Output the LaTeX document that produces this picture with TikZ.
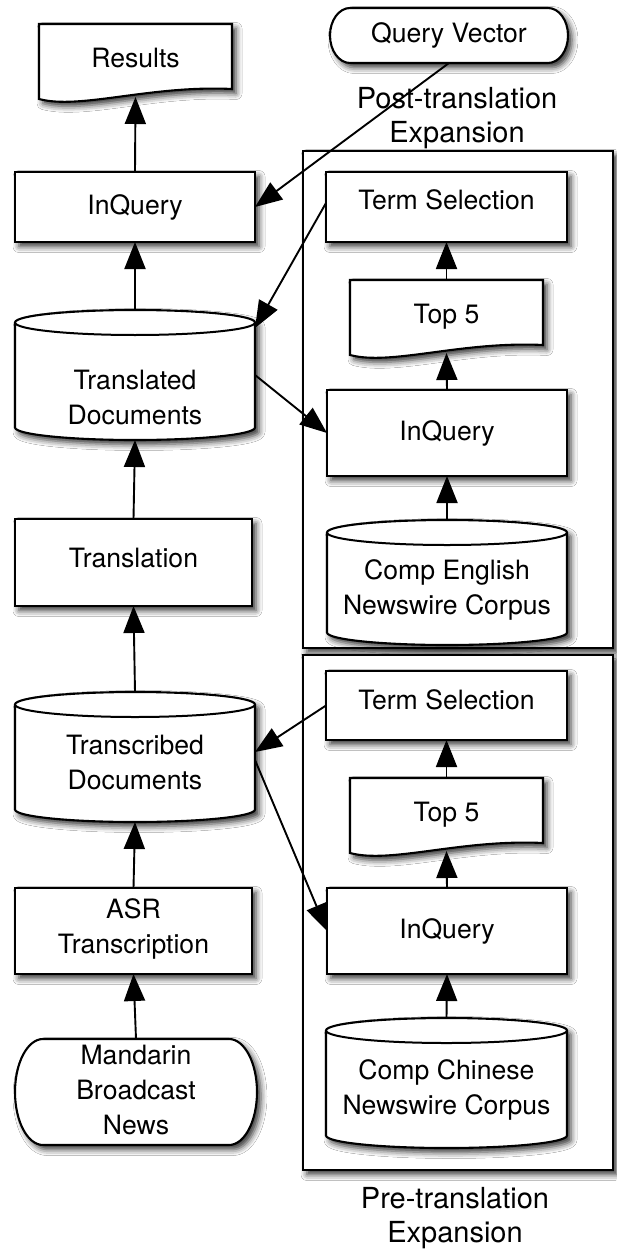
\documentclass[tikz,border=0pt]{standalone}
\usepackage{fontspec}
\setmainfont{TeX Gyre Heros}
\usetikzlibrary{arrows.meta,shadows.blur}
\newcommand\dfont{\fontsize{26.6}{35}\selectfont}
\newcommand\gfont{\fontsize{29}{34}\selectfont}
% document shape: x1, x2, top
\newcommand\mydoc[3]{%
  \path[shp] (#1,-#3) -- (#2,-#3) -- (#2,{-#3-65})
    .. controls ({#1+111},{-#3-61}) and ({#1+41},{-#3-86}) .. (#1,{-#3-75}) -- cycle;}
% cylinder: x1, x2, top, bottom
\newcommand\mycyl[4]{%
  \path[shp] (#1,{-#3-12.5}) -- (#1,{-#4+12.5})
    arc[start angle=180,end angle=360,x radius={(#2-#1)/2},y radius=12.5]
    -- (#2,{-#3-12.5})
    arc[start angle=0,end angle=180,x radius={(#2-#1)/2},y radius=12.5] -- cycle;
  \draw[line width=2pt] (#1,{-#3-12.5})
    arc[start angle=180,end angle=360,x radius={(#2-#1)/2},y radius=12.5];}
% stadium: x1, x2, top, bottom, end radius
\newcommand\mystad[5]{%
  \path[shp] ({#1+#5},-#3) -- ({#2-#5},-#3)
    arc[start angle=90,end angle=-90,x radius=#5,y radius={(#4-#3)/2}]
    -- ({#1+#5},-#4)
    arc[start angle=270,end angle=90,x radius=#5,y radius={(#4-#3)/2}] -- cycle;}
\begin{document}
\begin{tikzpicture}[x=1pt,y=1pt,
  every node/.style={font=\dfont},
  every label/.style={align=center, inner sep=0pt},
  shad/.style={blur shadow={shadow xshift=4pt,shadow yshift=-4.5pt,shadow blur radius=6pt,shadow opacity=80}},
  shp/.style={draw=black, fill=white, line width=2.1pt, shad},
  rbox/.style={shp, inner sep=0pt, outer sep=0pt},
  bx/.style={inner sep=0pt, outer sep=0pt},
  glbl/.style={align=center, font=\gfont},
  arr/.style={draw=black, -{Triangle[length=27pt,width=21pt,fill=black]}, line width=1.9pt},
]
\useasboundingbox[fill=white] (0,0) rectangle (616,-1249);

% group boxes
\node[rbox, minimum width=310pt, minimum height=497pt] (box1) at (458,-399.5) {};
\node[rbox, minimum width=310pt, minimum height=515pt] (box2) at (458,-912.5) {};
\node[glbl] (postlbl) at (457,-118) {Post-translation\\Expansion};
\node[glbl] (prelbl) at (455,-1218.5) {Pre-translation\\Expansion};

% custom shapes
\mydoc{39}{232}{24}
\mydoc{350}{543}{280}
\mydoc{350}{543}{778}
\mycyl{15}{255}{310}{440}
\mycyl{15}{255}{692}{822}
\mycyl{327}{567}{520}{645}
\mycyl{326}{567}{1018}{1148}
\mystad{330}{568}{8}{63}{20}
\mystad{15}{257}{1039}{1145}{28}

% nodes on custom shapes
\node[bx, minimum width=193pt, minimum height=73pt, label={[yshift=2.5pt]center:Results}] (res) at (135.5,-60.5) {};
\node[bx, minimum width=193pt, minimum height=73pt, label={center:Top 5}] (top5a) at (446.5,-316.5) {};
\node[bx, minimum width=193pt, minimum height=73pt, label={center:Top 5}] (top5b) at (446.5,-814.5) {};
\node[bx, minimum width=240pt, minimum height=130pt, label={[yshift=-22.5pt]center:{Translated\\Documents}}] (td) at (135,-375) {};
\node[bx, minimum width=240pt, minimum height=130pt, label={[yshift=-5pt]center:{Transcribed\\Documents}}] (trd) at (135,-757) {};
\node[bx, minimum width=240pt, minimum height=125pt, label={[yshift=-7pt]center:{Comp English\\Newswire Corpus}}] (ce) at (447,-582.5) {};
\node[bx, minimum width=241pt, minimum height=130pt, label={[yshift=-6.5pt]center:{Comp Chinese\\Newswire Corpus}}] (cc) at (446.5,-1083) {};
\node[bx, minimum width=238pt, minimum height=55pt, label={center:Query Vector}] (qv) at (449,-35.5) {};
\node[bx, minimum width=242pt, minimum height=106pt, label={[yshift=2pt]center:{Mandarin\\Broadcast\\News}}] (mand) at (136,-1092) {};

% rectangles
\node[rbox, minimum width=240pt, minimum height=70pt, label={center:InQuery}] (inql) at (135,-207) {};
\node[rbox, minimum width=237pt, minimum height=87pt, label={[yshift=4.5pt]center:Translation}] (transl) at (133.5,-562.5) {};
\node[rbox, minimum width=237pt, minimum height=86pt, label={[yshift=2.5pt]center:{ASR\\Transcription}}] (asr) at (133.5,-931) {};
\node[rbox, minimum width=241pt, minimum height=70pt, label={[yshift=7pt]center:Term Selection}] (ts1) at (446.5,-207) {};
\node[rbox, minimum width=241pt, minimum height=69pt, label={[yshift=5.5pt]center:Term Selection}] (ts2) at (446.5,-705.5) {};
\node[rbox, minimum width=240pt, minimum height=86pt, label={center:InQuery}] (inq2) at (447,-433) {};
\node[rbox, minimum width=240pt, minimum height=86pt, label={center:InQuery}] (inq3) at (447,-931) {};

% connectors
\draw[arr] (inql.north) -- (res.south);
\draw[arr] (qv.south) -- (inql.east);
\draw[arr] (td.north) -- (inql.south);
\draw[arr] ([yshift=4pt]ts1.west) -- ([yshift=-18pt]td.north east);
\draw[arr] (td.east) -- (inq2.west);
\draw[arr] (transl.north) -- (td.south);
\draw[arr] (trd.north) -- (transl.south);
\draw[arr] (asr.north) -- (trd.south);
\draw[arr] (mand.north) -- (asr.south);
\draw[arr] (ts2.west) -- ([yshift=5pt]trd.east);
\draw[arr] ([yshift=-3pt]trd.east) -- (inq3.west);
\draw[arr] (top5a.north) -- (ts1.south);
\draw[arr] (inq2.north) -- (top5a.south);
\draw[arr] (ce.north) -- (inq2.south);
\draw[arr] (top5b.north) -- (ts2.south);
\draw[arr] (inq3.north) -- (top5b.south);
\draw[arr] (cc.north) -- (inq3.south);
\end{tikzpicture}
\end{document}
